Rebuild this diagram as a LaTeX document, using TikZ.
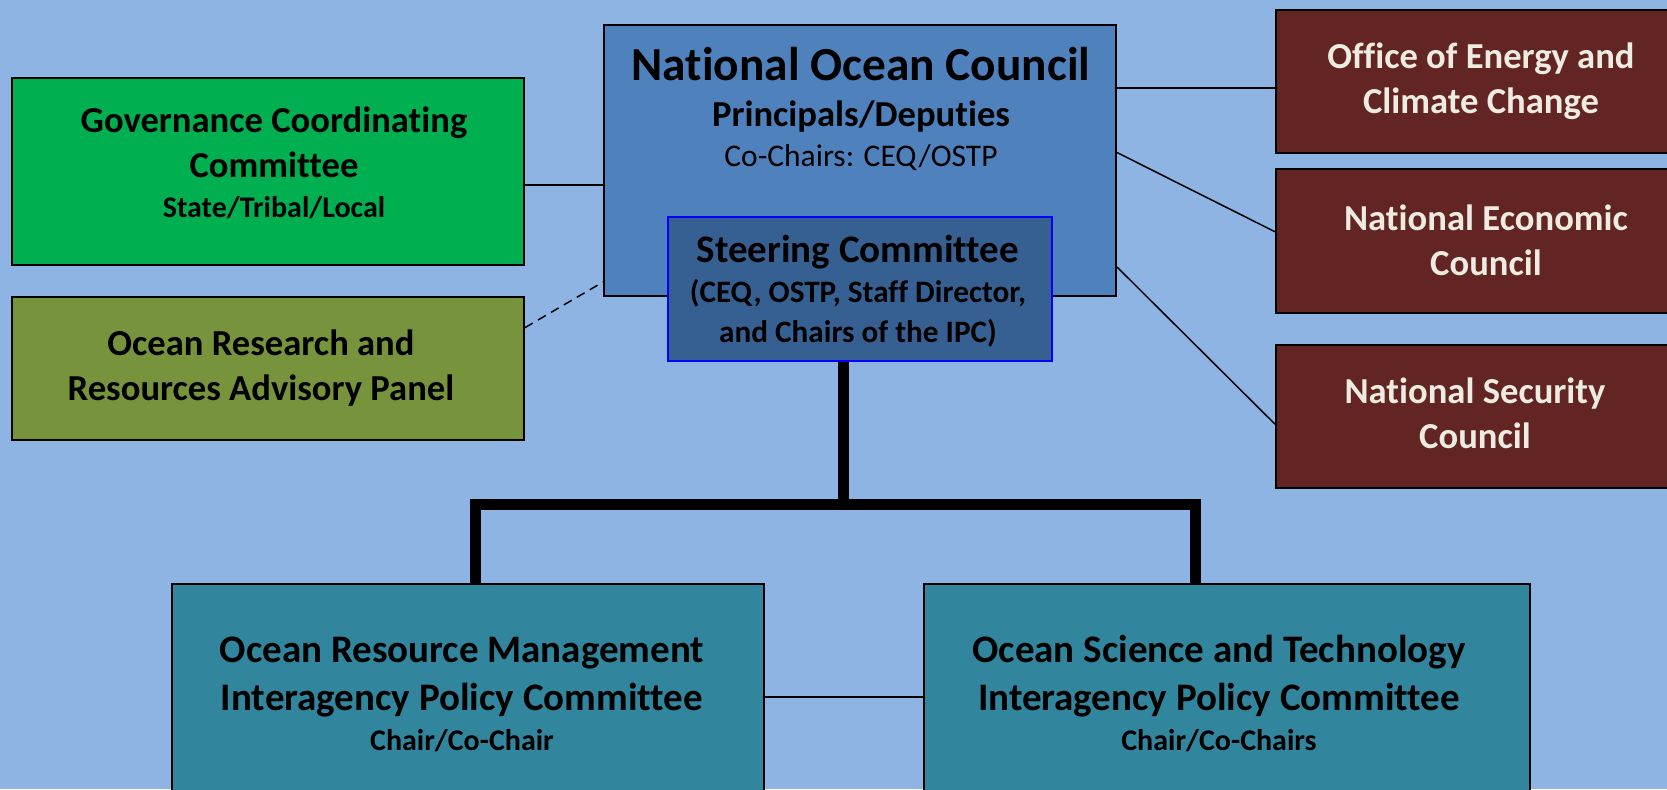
\documentclass[tikz,border=0pt]{standalone}
\usepackage{fontspec}
\setmainfont{Carlito}[Ligatures = NoCommon]
\usepackage{xcolor}
\usetikzlibrary{positioning}

\definecolor{fundo}{HTML}{8EB4E3}
\definecolor{verde}{HTML}{00B050}
\definecolor{oliva}{HTML}{77933C}
\definecolor{azulNOC}{HTML}{4F81BD}
\definecolor{azulSC}{HTML}{376092}
\definecolor{vinho}{HTML}{632523}
\definecolor{creme}{HTML}{EEECE1}
\definecolor{petroleo}{HTML}{31859C}

\newcommand{\menor}[1]{{\fontsize{15}{18}\selectfont #1}}

\begin{document}
\begin{tikzpicture}[x = 0.5pt, y = -0.5pt,
	caixa/.style = {draw = black, line width = 1pt, inner sep = 0pt, anchor = north west},
	rotulo/.style = {align = center, inner sep = 0pt, anchor = base, font = \bfseries\fontsize{18.3}{22.5}\selectfont},
	ligacao/.style = {draw = black, line width = 0.75pt},
	barra/.style = {draw = black, line width = 5.5pt}]

	\fill[fundo] (0, 0) rectangle (1667, 789); % fundo
	\useasboundingbox (0, 0) rectangle (1667, 789);
	\clip (0, 0) rectangle (1667, 789);

	% caixas da esquerda
	\node[caixa, fill = verde, minimum width = 256.2pt, minimum height = 93.6pt] (gcc) at (10.6, 76.5) {};
	\node[caixa, fill = oliva, minimum width = 256.2pt, minimum height = 71.7pt] (orrap) at (10.6, 295.6) {};

	% conselho e comite
	\node[caixa, fill = azulNOC, minimum width = 256pt, minimum height = 135.75pt] (noc) at (603, 23.5) {};
	\node[caixa, fill = azulSC, draw = blue, minimum width = 192.2pt, minimum height = 71.85pt] (steer) at (666.6, 215.8) {};

	% caixas da direita
	\node[caixa, fill = vinho, minimum width = 207.5pt, minimum height = 71.75pt] (oecc) at (1275, 8.5) {};
	\node[caixa, fill = vinho, minimum width = 207.5pt, minimum height = 71.75pt] (nec) at (1275, 168) {};
	\node[caixa, fill = vinho, minimum width = 207.5pt, minimum height = 71.75pt] (nsc) at (1275, 343.6) {};

	% comites de baixo
	\node[caixa, fill = petroleo, minimum width = 296pt, minimum height = 108.5pt] (orm) at (170.5, 582.6) {};
	\node[caixa, fill = petroleo, minimum width = 303pt, minimum height = 108.5pt] (ost) at (923, 582.6) {};

	% textos (ancorados na linha de base da ultima linha)
	\node[rotulo] (gccTexto) at (274, 217) {Governance Coordinating\\Committee\\[-2.5pt]\menor{State/Tribal/Local}};
	\node[rotulo] (orrapTexto) at (261, 400) {Ocean Research and\\Resources Advisory Panel};
	\node[rotulo, font = \bfseries\fontsize{18.3}{23}\selectfont] (nocTexto) at (861, 166) {{\fontsize{23.7}{23}\selectfont National Ocean Council}\\Principals/Deputies\\[-3pt]{\mdseries\fontsize{15.75}{20}\selectfont Co-Chairs: CEQ/OSTP}};
	\node[rotulo, font = \bfseries\fontsize{15.6}{20}\selectfont] (steerTexto) at (858, 342) {{\fontsize{19.5}{20}\selectfont Steering Committee}\\(CEQ, OSTP, Staff Director,\\and Chairs of the IPC)};
	\node[rotulo, text = creme] (oeccTexto) at (1481, 113) {Office of Energy and\\Climate Change};
	\node[rotulo, text = creme] (necTexto) at (1486, 275) {National Economic\\Council};
	\node[rotulo, text = creme] (nscTexto) at (1475, 448) {National Security\\Council};
	\node[rotulo, font = \bfseries\fontsize{19.5}{24}\selectfont] (ormTexto) at (462, 750) {Ocean Resource Management\\Interagency Policy Committee\\[-4pt]\menor{Chair/Co-Chair}};
	\node[rotulo, font = \bfseries\fontsize{19.5}{24}\selectfont] (ostTexto) at (1219, 750) {Ocean Science and Technology\\Interagency Policy Committee\\[-4pt]\menor{Chair/Co-Chairs}};

	% ligacoes
	\draw[ligacao] ([yshift = -7pt]gcc.east) -- ([yshift = -7pt]gcc.east -| noc.west);
	\draw[ligacao, dash pattern = on 4.5pt off 3pt] ([yshift = -16pt]orrap.north east) -- ([yshift = 7.5pt]noc.south west);
	\draw[ligacao] ([yshift = -32.25pt]noc.north east) -- ([yshift = -32.25pt]noc.north east -| oecc.west);
	\draw[ligacao] ([yshift = -64.5pt]noc.north east) -- ([yshift = 4.5pt]nec.west);
	\draw[ligacao] ([yshift = 15pt]noc.south east) -- ([yshift = -3.9pt]nsc.west);
	\draw[ligacao] ([yshift = -2.5pt]orm.east) -- ([yshift = -2.5pt]orm.east -| ost.west);

	\coordinate (barraE) at (475, 504);
	\coordinate (barraD) at (1195, 504);
	\draw[barra] ([xshift = -8pt]steer.south) -- ([xshift = -8pt]steer.south |- barraE);
	\draw[barra] (barraE |- orm.north) -- (barraE) -- (barraD) -- (barraD |- ost.north);

\end{tikzpicture}
\end{document}
